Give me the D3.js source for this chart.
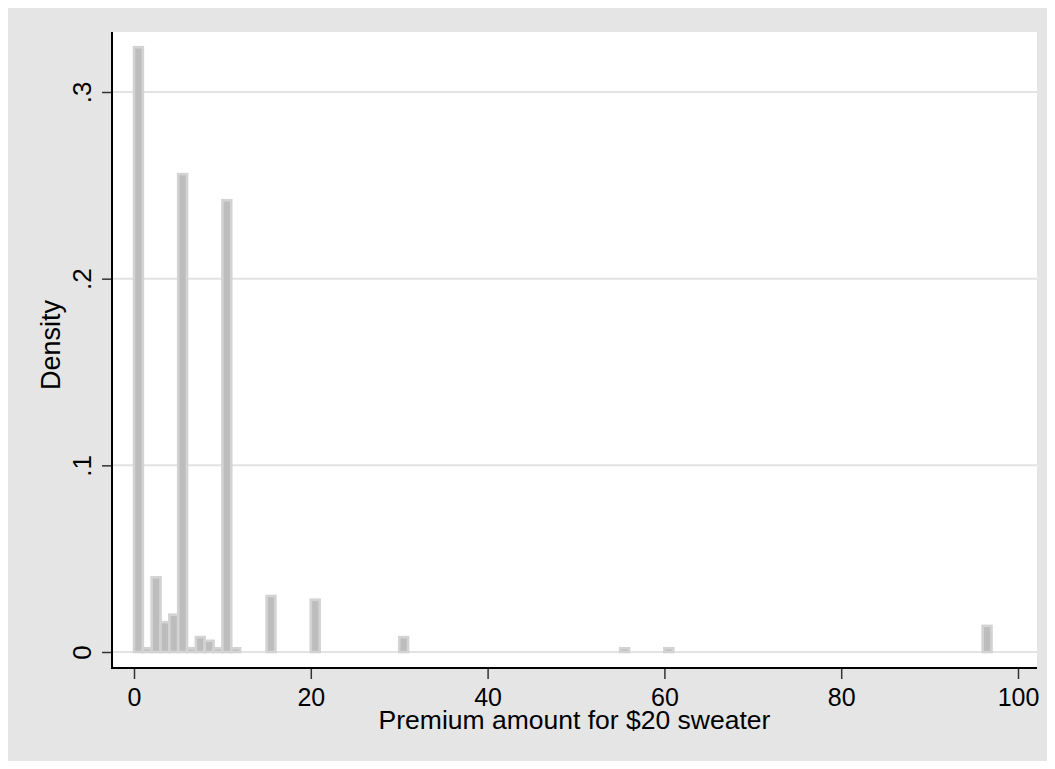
<!DOCTYPE html>
<html>
<head>
<meta charset="utf-8">
<script src="https://cdn.jsdelivr.net/npm/d3@7"></script>
<style>
  html, body { margin: 0; padding: 0; background: #ffffff; }
  svg { display: block; }
  text { font-family: "Liberation Sans", Arial, Helvetica, sans-serif; fill: #000; }
</style>
</head>
<body>
<svg id="chart" width="1055" height="769"></svg>
<script>
// ---- data ----
const binStarts = [0, 1, 2, 3, 4, 5, 6, 7, 8, 9, 10, 11, 15, 20, 30, 55, 60, 96];
const densities = [0.324, 0.002, 0.040, 0.016, 0.020, 0.256, 0.002, 0.008, 0.006, 0.002, 0.242, 0.002, 0.030, 0.028, 0.008, 0.002, 0.002, 0.014];
const binWidth = 1;
const xTicks = [0, 20, 40, 60, 80, 100];
const xTickLabels = ["0", "20", "40", "60", "80", "100"];
const yTicks = [0, 0.1, 0.2, 0.3];
const yTickLabels = ["0", ".1", ".2", ".3"];
const xTitle = "Premium amount for $20 sweater";
const yTitle = "Density";

const svg = d3.select("#chart");
const W = 1055, H = 769;

// outer graph region
svg.append("rect").attr("x", 8).attr("y", 8).attr("width", W - 16).attr("height", H - 16)
  .attr("fill", "#e5e5e5");

// plot region
const plot = { left: 112, right: 1037, top: 32, bottom: 668 };
svg.append("rect").attr("x", plot.left).attr("y", plot.top)
  .attr("width", plot.right - plot.left).attr("height", plot.bottom - plot.top)
  .attr("fill", "#ffffff");

const x = d3.scaleLinear().domain([0, 100]).range([134, 1018]);
const y = d3.scaleLinear().domain([0, 0.3]).range([652, 92]);

// grid lines
svg.append("g").selectAll("line").data(yTicks).join("line")
  .attr("x1", plot.left).attr("x2", plot.right)
  .attr("y1", d => y(d)).attr("y2", d => y(d))
  .attr("stroke", "#e3e3e3").attr("stroke-width", 2);

// bars
const bars = binStarts.map((s, i) => ({ x0: s, x1: s + binWidth, d: densities[i] }));
svg.append("g").selectAll("rect").data(bars).join("rect")
  .attr("x", d => x(d.x0))
  .attr("width", d => x(d.x1) - x(d.x0))
  .attr("y", d => y(d.d))
  .attr("height", d => y(0) - y(d.d))
  .attr("fill", "#bdbdbd")
  .attr("stroke", "#d3d3d3")
  .attr("stroke-width", 2.6);

// y axis
const yAxis = d3.axisLeft(y).tickValues(yTicks).tickFormat((d, i) => yTickLabels[i])
  .tickSize(10).tickPadding(0);
const gy = svg.append("g").attr("transform", `translate(${plot.left},0)`).call(yAxis);
gy.select(".domain").remove();
gy.selectAll(".tick line").attr("stroke", "#333").attr("stroke-width", 1.5);
gy.selectAll(".tick text").remove();
gy.selectAll(".tick").append("text")
  .attr("transform", "translate(-21,0) rotate(-90)")
  .attr("text-anchor", "middle")
  .attr("font-size", 26)
  .text((d, i) => yTickLabels[i]);
svg.append("line").attr("x1", plot.left).attr("x2", plot.left)
  .attr("y1", plot.top).attr("y2", plot.bottom + 1)
  .attr("stroke", "#000").attr("stroke-width", 2);

// x axis
const xAxis = d3.axisBottom(x).tickValues(xTicks).tickFormat((d, i) => xTickLabels[i])
  .tickSize(11).tickPadding(0);
const gx = svg.append("g").attr("transform", `translate(0,${plot.bottom})`).call(xAxis);
gx.select(".domain").remove();
gx.selectAll(".tick line").attr("stroke", "#333").attr("stroke-width", 1.5);
gx.selectAll(".tick text").attr("font-size", 25).attr("font-family", null)
  .attr("y", 38).attr("dy", null);
svg.append("line").attr("x1", plot.left - 1).attr("x2", plot.right)
  .attr("y1", plot.bottom).attr("y2", plot.bottom)
  .attr("stroke", "#000").attr("stroke-width", 2);

// axis titles
svg.append("text").attr("x", (plot.left + plot.right) / 2).attr("y", 729)
  .attr("text-anchor", "middle").attr("font-size", 26.5).text(xTitle);
svg.append("text").attr("transform", `translate(60,345) rotate(-90)`)
  .attr("text-anchor", "middle").attr("font-size", 27).text(yTitle);
</script>
</body>
</html>
